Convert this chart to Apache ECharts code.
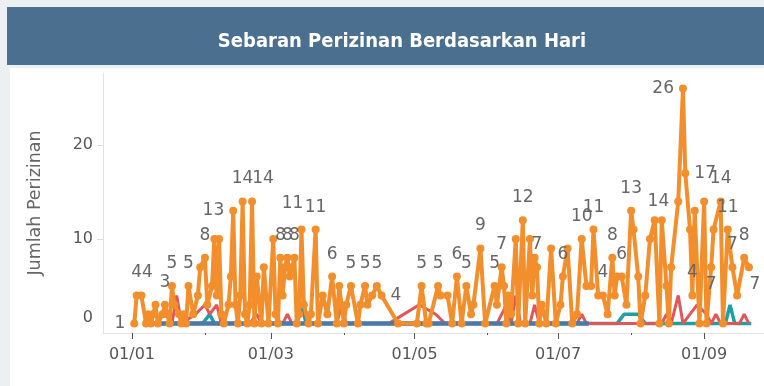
<!DOCTYPE html>
<html>
<head>
<meta charset="utf-8">
<script src="https://cdn.jsdelivr.net/npm/echarts@6/dist/echarts.min.js"></script>
<style>
  html, body { margin: 0; padding: 0; background: #edf0f3; }
  #chart { width: 764px; height: 386px; }
</style>
</head>
<body>
<div id="chart"></div>
<script>
// Daily permit counts, 2019, per category.
const orangeDates = [
  '2019-01-02','2019-01-03','2019-01-05','2019-01-07','2019-01-08','2019-01-09','2019-01-10','2019-01-11','2019-01-12','2019-01-14',
  '2019-01-15','2019-01-16','2019-01-17','2019-01-18','2019-01-19','2019-01-21','2019-01-22','2019-01-23','2019-01-24','2019-01-25',
  '2019-01-27','2019-01-29','2019-01-30','2019-02-01','2019-02-02','2019-02-04','2019-02-05','2019-02-06','2019-02-07','2019-02-08',
  '2019-02-09','2019-02-11','2019-02-12','2019-02-13','2019-02-14','2019-02-15','2019-02-16','2019-02-17','2019-02-18','2019-02-19',
  '2019-02-20','2019-02-21','2019-02-22','2019-02-23','2019-02-25','2019-02-26','2019-02-28','2019-03-02','2019-03-03','2019-03-04',
  '2019-03-05','2019-03-06','2019-03-07','2019-03-08','2019-03-09','2019-03-10','2019-03-11','2019-03-12','2019-03-13','2019-03-14',
  '2019-03-15','2019-03-17','2019-03-18','2019-03-20','2019-03-21','2019-03-23','2019-03-25','2019-03-27','2019-03-29','2019-03-30',
  '2019-04-01','2019-04-02','2019-04-04','2019-04-07','2019-04-08','2019-04-10','2019-04-11','2019-04-13','2019-04-15','2019-04-17',
  '2019-04-24','2019-05-02','2019-05-04','2019-05-06','2019-05-07','2019-05-11','2019-05-12','2019-05-15','2019-05-17','2019-05-19',
  '2019-05-21','2019-05-23','2019-05-25','2019-05-26','2019-05-29','2019-05-31','2019-06-04','2019-06-05','2019-06-07','2019-06-08',
  '2019-06-09','2019-06-10','2019-06-11','2019-06-13','2019-06-14','2019-06-16','2019-06-17','2019-06-19','2019-06-20','2019-06-21',
  '2019-06-22','2019-06-23','2019-06-24','2019-06-26','2019-06-28','2019-06-30','2019-07-02','2019-07-03','2019-07-05','2019-07-07',
  '2019-07-09','2019-07-11','2019-07-13','2019-07-15','2019-07-16','2019-07-18','2019-07-20','2019-07-22','2019-07-24','2019-07-25',
  '2019-07-26','2019-07-28','2019-07-30','2019-08-01','2019-08-02','2019-08-04','2019-08-05','2019-08-07','2019-08-09','2019-08-11',
  '2019-08-13','2019-08-14','2019-08-16','2019-08-17','2019-08-18','2019-08-21','2019-08-23','2019-08-24','2019-08-26','2019-08-27',
  '2019-08-28','2019-08-30','2019-09-01','2019-09-02','2019-09-04','2019-09-05','2019-09-08','2019-09-09','2019-09-11','2019-09-13',
  '2019-09-15','2019-09-18','2019-09-20'
];
const orangeValues = [
  1,4,4,1,2,1,2,3,1,2,
  3,2,1,5,3,2,1,2,1,5,
  2,4,7,8,3,5,10,4,10,2,
  1,3,6,13,3,1,4,14,2,1,
  3,14,1,6,1,7,1,10,2,1,
  8,4,7,8,6,7,8,1,2,11,
  3,1,2,11,1,4,2,6,1,5,
  1,3,5,1,3,5,3,4,5,4,
  1,1,5,1,1,5,4,4,1,6,
  1,5,2,3,9,1,5,3,7,5,
  1,4,2,10,1,12,1,10,4,8,
  7,1,3,1,9,1,3,6,9,1,
  2,10,5,5,11,4,4,2,8,4,
  6,6,3,13,11,6,1,4,10,12,
  1,12,5,1,7,14,26,17,11,4,
  13,1,14,1,7,11,14,1,11,7,
  4,8,7
];
// Days whose value is printed on the chart
const orangeLabelDates = [
  '2019-01-02','2019-01-03','2019-01-05','2019-01-15','2019-01-18','2019-01-25','2019-02-01','2019-02-13','2019-02-17','2019-02-21',
  '2019-03-05','2019-03-08','2019-03-11','2019-03-14','2019-03-20','2019-03-27','2019-04-04','2019-04-10','2019-04-15','2019-04-17',
  '2019-05-04','2019-05-11','2019-05-19','2019-05-23','2019-05-29','2019-06-04','2019-06-07','2019-06-16','2019-06-22','2019-07-03',
  '2019-07-11','2019-07-16','2019-07-20','2019-07-24','2019-07-28','2019-08-01','2019-08-21','2019-08-23','2019-08-24','2019-08-27',
  '2019-09-04','2019-09-08','2019-09-11','2019-09-13','2019-09-18','2019-09-20'
];

const redDates = [
  '2019-01-10','2019-01-18','2019-01-20','2019-01-22','2019-01-28','2019-02-01','2019-02-03','2019-02-06','2019-02-08','2019-02-20',
  '2019-02-23','2019-02-25','2019-03-06','2019-03-08','2019-03-10','2019-03-29','2019-03-31','2019-04-02','2019-04-20','2019-05-03',
  '2019-05-10','2019-05-14','2019-06-05','2019-06-09','2019-06-11','2019-06-13','2019-06-15','2019-06-19','2019-06-21','2019-06-23',
  '2019-07-09','2019-07-11','2019-07-13','2019-08-14','2019-08-16','2019-08-18','2019-08-21','2019-08-23','2019-08-26','2019-08-29',
  '2019-09-02','2019-09-04','2019-09-06','2019-09-08','2019-09-16','2019-09-18','2019-09-20'
];
const redValues = [
  1,1,4,1,2,3,2,3,1,1,
  2,1,1,2,1,1,3,1,1,3,
  2,1,1,3,1,4,1,1,3,1,
  1,2,1,1,2,1,4,1,2,3,
  2,1,2,1,1,2,1
];

const tealDates = [
  '2019-01-10','2019-01-31','2019-02-03','2019-02-05','2019-03-12','2019-03-14','2019-03-16','2019-07-26','2019-07-29','2019-08-01',
  '2019-08-04','2019-08-07','2019-09-10','2019-09-12','2019-09-14','2019-09-21'
];
const tealValues = [1,1,2,1,1,3,1,1,2,2,2,1,1,3,1,1];

const blueDates = [
  '2019-01-10','2019-02-01','2019-03-01','2019-04-01','2019-05-01','2019-06-01','2019-07-01','2019-07-14'
];
const blueValues = [1,1,1,1,1,1,1,1];

const yTickLabels = [0, 10, 20];
const monthLabelDates = ['2019-01-01','2019-03-01','2019-05-01','2019-07-01','2019-09-01'];
const monthMinorDates = ['2019-02-01','2019-04-01','2019-06-01','2019-08-01'];

// ---------------------------------------------------------------
function toTime(s) {
  const p = s.split(/[- :]/).map(Number);
  return new Date(p[0], p[1] - 1, p[2], p[3] || 0, p[4] || 0).getTime();
}
function pad(n) { return (n < 10 ? '0' : '') + n; }

// label placement tweaks for crowded spots (shift = [dx, dy] in px)
const labelPlace = {
  '2019-01-02': { position: 'left' },
  '2019-01-05': { shift: [6, 0] },
  '2019-02-13': { position: 'left' },
  '2019-02-21': { shift: [11, 0] },
  '2019-03-14': { shift: [-9, 4] },
  '2019-04-17': { position: 'right' },
  '2019-08-21': { position: 'left' },
  '2019-08-23': { position: 'left' },
  '2019-08-24': { position: 'right' },
  '2019-09-04': { position: 'bottom' },
  '2019-09-20': { position: 'bottom', shift: [6, 0] }
};

const labelFont = { fontFamily: 'DejaVu Sans', fontSize: 17, color: '#666666' };

// horizontal / vertical nudges are made with asymmetric padding around the text
function shiftPadding(shift, position) {
  if (!shift) return 0;
  const dx = shift[0], dy = shift[1];
  const pad4 = [0, 0, 0, 0];
  if (dx > 0) pad4[3] = 2 * dx; else if (dx < 0) pad4[1] = -2 * dx;
  if (position === 'top' && dy > 0) pad4[2] = dy;
  return pad4;
}

const orangeData = orangeDates.map((d, i) => {
  const item = { value: [toTime(d), orangeValues[i]] };
  if (orangeLabelDates.indexOf(d) >= 0) {
    const pl = labelPlace[d] || {};
    const pos = pl.position || 'top';
    item.label = Object.assign({
      show: true,
      position: pos,
      distance: pos === 'top' ? 10 : 5,
      padding: shiftPadding(pl.shift, pos),
      formatter: p => p.value[1]
    }, labelFont);
  }
  return item;
});
const pair = (dates, vals) => dates.map((d, i) => [toTime(d), vals[i]]);

const chart = echarts.init(document.getElementById('chart'), null, { renderer: 'canvas' });

const xMin = toTime('2018-12-19 17:00');
const xMax = toTime('2019-09-26 10:00');
const dayMonth = v => { const d = new Date(v); return pad(d.getDate()) + '/' + pad(d.getMonth() + 1); };

chart.setOption({
  animation: false,
  backgroundColor: '#edf0f3',
  title: {
    text: 'Sebaran Perizinan Berdasarkan Hari',
    left: 397, top: 27, textAlign: 'center',
    textStyle: { color: '#ffffff', fontFamily: 'DejaVu Sans Condensed', fontWeight: 'bold', fontSize: 20 }
  },
  graphic: [
    { type: 'rect', z: -10, shape: { x: 7, y: 7, width: 800, height: 58 }, style: { fill: '#4b6f8e' } },
    { type: 'rect', z: -10, shape: { x: 10, y: 68, width: 800, height: 330 }, style: { fill: '#ffffff' } }
  ],
  grid: { left: 103, right: 0, top: 73, bottom: 53, containLabel: false },
  xAxis: [{
    type: 'value', min: xMin, max: xMax,
    axisLine: { show: true, lineStyle: { color: '#e2e2e2', width: 1 } },
    axisTick: { show: true, customValues: monthLabelDates.map(toTime), length: 6, lineStyle: { color: '#555', width: 1 } },
    axisLabel: {
      customValues: monthLabelDates.map(toTime),
      formatter: dayMonth,
      fontFamily: 'DejaVu Sans', fontSize: 16, color: '#555', margin: 14
    },
    splitLine: { show: false }
  }, {
    type: 'value', min: xMin, max: xMax, position: 'bottom',
    axisLine: { show: false },
    axisTick: { show: true, customValues: monthMinorDates.map(toTime), length: 2, lineStyle: { color: '#555', width: 1 } },
    axisLabel: { show: false },
    splitLine: { show: false }
  }],
  yAxis: {
    type: 'value', min: 0, max: 27.66,
    axisLine: { show: true, lineStyle: { color: '#e2e2e2', width: 1 } },
    axisTick: { show: true, customValues: [10, 20], length: 6, lineStyle: { color: '#dcdcdc' } },
    axisLabel: {
      customValues: yTickLabels,
      formatter: v => v === 0 ? '{z|0}' : String(v),
      fontFamily: 'DejaVu Sans', fontSize: 16, color: '#555', margin: 10,
      rich: { z: { fontFamily: 'DejaVu Sans', fontSize: 16, color: '#555', padding: [0, 0, 30, 0] } }
    },
    splitLine: { show: false },
    name: 'Jumlah Perizinan', nameLocation: 'middle', nameRotate: 90, nameGap: 59,
    nameTextStyle: { fontFamily: 'DejaVu Sans', fontSize: 17.5, color: '#666' }
  },
  series: [
    { name: 'teal', type: 'line', data: pair(tealDates, tealValues), showSymbol: false, symbol: 'none',
      lineStyle: { color: '#1f9fa5', width: 3.5 }, itemStyle: { color: '#1f9fa5' }, z: 2 },
    { name: 'red', type: 'line', data: pair(redDates, redValues), showSymbol: false, symbol: 'none',
      lineStyle: { color: '#e15759', width: 3 }, itemStyle: { color: '#e15759' }, z: 3 },
    { name: 'blue', type: 'line', data: pair(blueDates, blueValues), showSymbol: false, symbol: 'none',
      lineStyle: { color: '#4e79a7', width: 4.5 }, itemStyle: { color: '#4e79a7' }, z: 4 },
    { name: 'orange', type: 'line', data: orangeData, symbol: 'circle', symbolSize: 8, showSymbol: true,
      lineStyle: { color: '#f28e2b', width: 4 }, itemStyle: { color: '#f28e2b' }, z: 5,
      labelLayout: { hideOverlap: false } }
  ]
});
</script>
</body>
</html>
